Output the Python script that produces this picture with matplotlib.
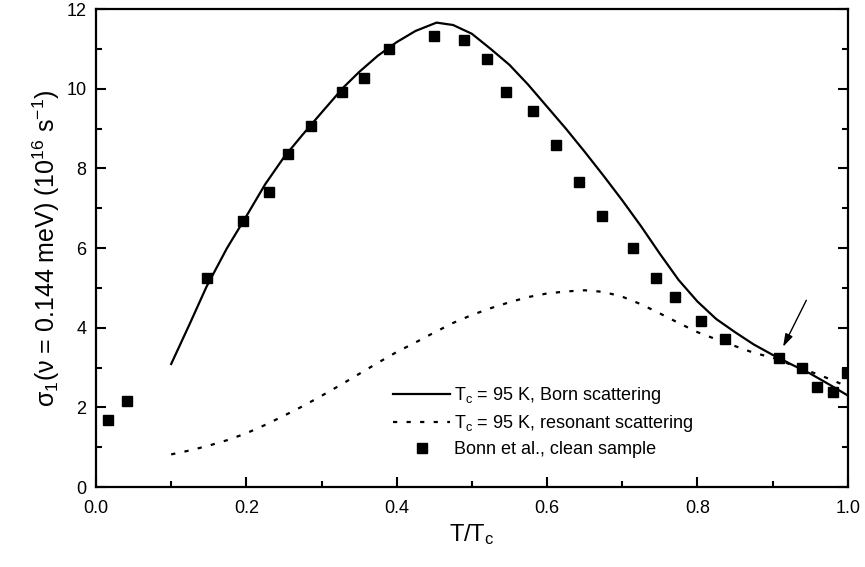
import numpy as np
import matplotlib
matplotlib.use('Agg')
import matplotlib.pyplot as plt
from matplotlib.ticker import MultipleLocator, FormatStrFormatter

plt.rcParams['font.family'] = ['Liberation Sans', 'DejaVu Sans']
plt.rcParams['mathtext.fontset'] = 'custom'
plt.rcParams['mathtext.rm'] = 'Liberation Sans'
plt.rcParams['mathtext.it'] = 'Liberation Sans'

# Born scattering curve (Tc = 95 K)
born_x = [0.100, 0.125, 0.147, 0.174, 0.200, 0.225, 0.250, 0.275, 0.300, 0.329,
          0.350, 0.375, 0.400, 0.425, 0.453, 0.475, 0.500, 0.525, 0.550, 0.575,
          0.600, 0.625, 0.650, 0.675, 0.700, 0.725, 0.750, 0.775, 0.800, 0.825,
          0.850, 0.875, 0.900, 0.925, 0.950, 0.975, 1.000]
born_y = [3.09, 4.11, 5.03, 5.99, 6.80, 7.60, 8.28, 8.85, 9.40, 10.03,
          10.42, 10.83, 11.17, 11.45, 11.66, 11.60, 11.38, 11.00, 10.60, 10.10,
          9.55, 9.00, 8.42, 7.82, 7.20, 6.55, 5.86, 5.20, 4.66, 4.22,
          3.89, 3.58, 3.32, 3.08, 2.85, 2.58, 2.30]

# resonant scattering curve (Tc = 95 K)
res_x = [0.100, 0.125, 0.150, 0.175, 0.200, 0.225, 0.250, 0.275, 0.300, 0.325,
         0.350, 0.375, 0.400, 0.425, 0.450, 0.475, 0.500, 0.525, 0.550, 0.575,
         0.600, 0.625, 0.650, 0.675, 0.700, 0.725, 0.750, 0.775, 0.800, 0.825,
         0.850, 0.875, 0.900, 0.925, 0.950, 0.975, 1.000]
res_y = [0.82, 0.92, 1.04, 1.18, 1.35, 1.56, 1.79, 2.03, 2.29, 2.56,
         2.84, 3.12, 3.39, 3.63, 3.88, 4.12, 4.32, 4.49, 4.64, 4.77,
         4.86, 4.91, 4.94, 4.90, 4.78, 4.59, 4.36, 4.12, 3.89, 3.71,
         3.54, 3.37, 3.25, 3.07, 2.90, 2.72, 2.52]

# Bonn et al., clean sample
bonn_x = [0.016, 0.041, 0.148, 0.195, 0.230, 0.255, 0.286, 0.327, 0.356, 0.390,
          0.449, 0.490, 0.520, 0.546, 0.582, 0.612, 0.643, 0.673, 0.714, 0.745,
          0.770, 0.805, 0.837, 0.909, 0.939, 0.959, 0.980, 0.999]
bonn_y = [1.68, 2.16, 5.26, 6.69, 7.40, 8.35, 9.07, 9.92, 10.27, 10.99,
          11.33, 11.23, 10.75, 9.91, 9.43, 8.59, 7.65, 6.81, 6.01, 5.26,
          4.78, 4.18, 3.71, 3.23, 2.99, 2.52, 2.39, 2.87]

fig = plt.figure(figsize=(8.65, 5.67), dpi=100)
ax = fig.add_axes([0.111, 0.141, 0.869, 0.843])

ax.plot(born_x, born_y, color='black', lw=1.6, label='T$_c$ = 95 K, Born scattering')
ax.plot(res_x, res_y, color='black', lw=1.6, dashes=(1.9, 4.2),
        label='T$_c$ = 95 K, resonant scattering')
ax.plot(bonn_x, bonn_y, 's', color='black', ms=7.5, label='Bonn et al., clean sample')

# arrow pointing at the data point near T/Tc = 0.91
ax.annotate('', xy=(0.914, 3.52), xytext=(0.945, 4.69),
            arrowprops=dict(arrowstyle='-|>,head_length=0.55,head_width=0.17',
                            color='black', lw=1.0, mutation_scale=14,
                            shrinkA=0, shrinkB=0))

ax.set_xlim(0, 1.0)
ax.set_ylim(0, 12)
ax.xaxis.set_major_locator(MultipleLocator(0.2))
ax.xaxis.set_minor_locator(MultipleLocator(0.1))
ax.yaxis.set_major_locator(MultipleLocator(2))
ax.yaxis.set_minor_locator(MultipleLocator(1))
ax.xaxis.set_major_formatter(FormatStrFormatter('%.1f'))
ax.tick_params(which='both', direction='in', right=True, top=False,
               labelsize=13, width=1.5)
ax.tick_params(axis='x', pad=9)
ax.tick_params(axis='y', pad=7)
ax.tick_params(which='major', length=7)
ax.tick_params(which='minor', length=4)
for s in ax.spines.values():
    s.set_linewidth(1.6)

ax.set_xlabel('T/T$_c$', fontsize=17, labelpad=4)
ax.set_ylabel('σ$_1$(ν = 0.144 meV) (10$^{16}$ s$^{-1}$)', fontsize=18, labelpad=3)

ax.legend(loc='lower left', bbox_to_anchor=(0.385, 0.045), frameon=False,
          fontsize=13, handlelength=3.2, handletextpad=0.2, labelspacing=0.4,
          borderaxespad=0)

fig.savefig('out.png', dpi=100)
